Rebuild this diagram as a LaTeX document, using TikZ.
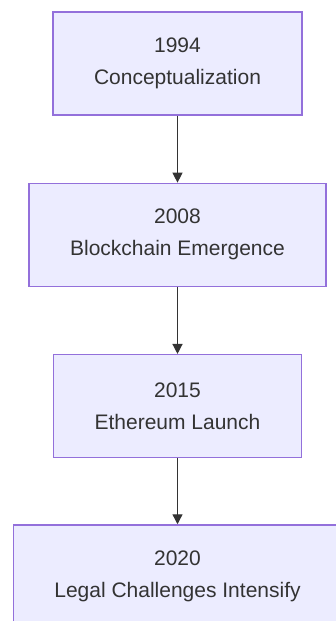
\documentclass[tikz,border=0pt]{standalone}
\usepackage{fontspec}
\setmainfont{Liberation Sans}
\usepackage{xcolor}
\usetikzlibrary{arrows.meta, positioning}
\definecolor{boxfill}{HTML}{ECECFF}
\definecolor{boxline}{HTML}{9370DB}
\definecolor{inkgray}{HTML}{333333}

\begin{document}
\begin{tikzpicture}[
    block/.style={rectangle, draw=boxline, fill=boxfill, line width=1.3pt, align=center, text=inkgray,
        inner xsep=41pt, minimum height=103pt, font=\fontsize{21}{32}\selectfont},
    arrow/.style={-{Triangle[length=10pt, width=10pt]}, line width=1.3pt, draw=inkgray},
    node distance=67pt
]

\useasboundingbox (0,0) rectangle (335pt,-621pt);

% Milestones
\node[block] (y1994) at (177.5pt,-63.5pt) {1994\\Conceptualization};
\node[block, below=of y1994] (y2008) {2008\\Blockchain Emergence};
\node[block, below=of y2008] (y2015) {2015\\Ethereum Launch};
\node[block, below=66pt of y2015] (y2020) {2020\\Legal Challenges Intensify};

% Arrows
\draw[arrow] (y1994) -- (y2008);
\draw[arrow] (y2008) -- (y2015);
\draw[arrow] (y2015) -- (y2020);

\end{tikzpicture}
\end{document}
